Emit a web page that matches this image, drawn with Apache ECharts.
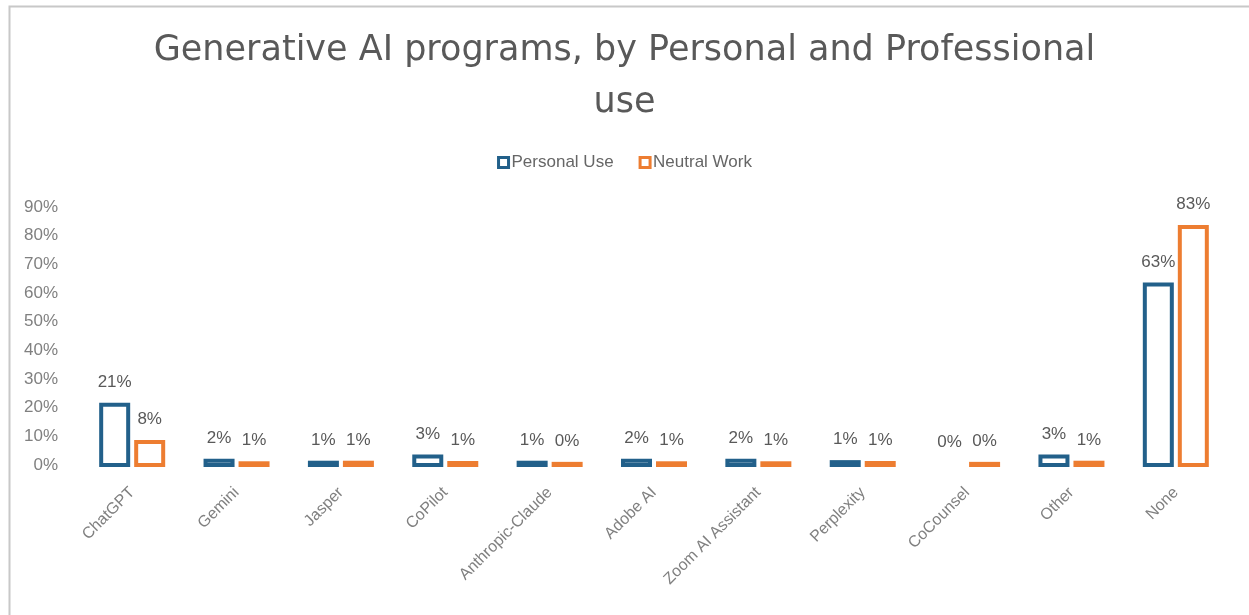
<!DOCTYPE html>
<html>
<head>
<meta charset="utf-8">
<script src="https://cdn.jsdelivr.net/npm/echarts@6/dist/echarts.min.js"></script>
<style>
html,body{margin:0;padding:0;background:#fff;}
#chart{width:1249px;height:615px;}
</style>
</head>
<body>
<div id="chart"></div>
<script>
const categories = ['ChatGPT','Gemini','Jasper','CoPilot','Anthropic-Claude','Adobe AI','Zoom AI Assistant','Perplexity','CoCounsel','Other','None'];
const personalUse = [0.21, 0.015, 0.008, 0.03, 0.008, 0.015, 0.015, 0.01, 0, 0.03, 0.63];
const neutralWork = [0.08, 0.006, 0.008, 0.007, 0.004, 0.006, 0.006, 0.007, 0.004, 0.008, 0.83];
const seriesNames = ['Personal Use','Neutral Work'];
const yTicks = { min: 0, max: 0.9, interval: 0.1 };

const FONT = "'Liberation Sans', Arial, sans-serif";
const BLUE = '#22608A';
const ORANGE = '#ED7D31';
const BAR_W = 27;     // rect width (stroke centred on edge, like the source)
const BAR_GAP = 8;    // gap between the two rects of a group
const BORDER = 4;

const chart = echarts.init(document.getElementById('chart'), null, {renderer:'canvas'});
const pct = v => Math.round(v * 100) + '%';

function makeRender(seriesIdx, color) {
  return function (params, api) {
    const ci = api.value(0);
    const val = api.value(1);
    const base = api.coord([ci, 0]);
    const top = api.coord([ci, val]);
    const off = (seriesIdx === 0 ? -1 : 1) * (BAR_W + BAR_GAP) / 2;
    const cx = base[0] + off;
    const children = [];
    if (val > 0) {
      children.push({
        type: 'rect',
        shape: { x: cx - BAR_W / 2, y: top[1], width: BAR_W, height: base[1] - top[1] },
        style: { fill: '#ffffff', stroke: color, lineWidth: BORDER }
      });
    }
    children.push({
      type: 'text',
      style: {
        text: pct(val),
        x: cx,
        y: top[1] - BORDER / 2 - 12,
        align: 'center',
        verticalAlign: 'bottom',
        fontFamily: FONT,
        fontSize: 17,
        fill: '#595959'
      }
    });
    return { type: 'group', children: children };
  };
}

function customSeries(idx, name, values, color) {
  return {
    name: name,
    type: 'custom',
    data: values.map((v, i) => [i, v]),
    encode: { x: 0, y: 1 },
    itemStyle: { color: '#ffffff', borderColor: color, borderWidth: BORDER },
    renderItem: makeRender(idx, color),
    silent: true
  };
}

chart.setOption({
  animation: false,
  backgroundColor: '#ffffff',
  color: [BLUE, ORANGE],
  graphic: [{
    type: 'rect',
    left: 7, top: 4,
    shape: { width: 1300, height: 700 },
    style: { fill: 'none', stroke: '#c8c8c8', lineWidth: 2 },
    silent: true
  }],
  title: {
    text: 'Generative AI programs, by Personal and Professional\nuse',
    left: 'center',
    top: 25,
    padding: [0, 0, 0, 10],
    textStyle: {
      fontFamily: "'DejaVu Sans', sans-serif",
      fontSize: 35,
      fontWeight: 'normal',
      color: '#595959',
      lineHeight: 52
    }
  },
  legend: {
    top: 149,
    left: 'center',
    itemWidth: 10,
    itemHeight: 10,
    itemGap: 25,
    icon: 'rect',
    itemStyle: { borderWidth: 3, color: '#ffffff' },
    textStyle: { fontFamily: FONT, fontSize: 17, color: '#666666', padding: [0,0,0,-2] },
    data: [
      { name: seriesNames[0], itemStyle: { color: '#ffffff', borderColor: BLUE, borderWidth: 3 } },
      { name: seriesNames[1], itemStyle: { color: '#ffffff', borderColor: ORANGE, borderWidth: 3 } }
    ]
  },
  grid: { left: 80, right: 21, top: 207, bottom: 150, containLabel: false },
  xAxis: {
    type: 'category',
    data: categories,
    axisLine: { show: false },
    axisTick: { show: false },
    axisLabel: {
      interval: 0,
      rotate: 45,
      margin: 25,
      fontFamily: FONT,
      fontSize: 16,
      color: '#808080'
    }
  },
  yAxis: {
    type: 'value',
    min: yTicks.min,
    max: yTicks.max,
    interval: yTicks.interval,
    splitLine: { show: false },
    axisLine: { show: false },
    axisTick: { show: false },
    axisLabel: {
      margin: 22,
      formatter: v => pct(v),
      fontFamily: FONT,
      fontSize: 17,
      color: '#808080'
    }
  },
  series: [
    customSeries(0, seriesNames[0], personalUse, BLUE),
    customSeries(1, seriesNames[1], neutralWork, ORANGE)
  ]
});
</script>
</body>
</html>
